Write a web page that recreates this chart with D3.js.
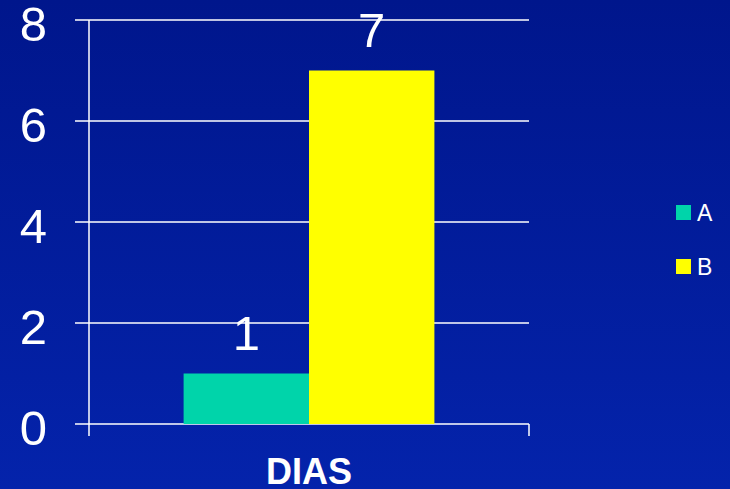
<!DOCTYPE html>
<html>
<head>
<meta charset="utf-8">
<script src="https://cdn.jsdelivr.net/npm/d3@7"></script>
<style>
  html, body { margin: 0; padding: 0; }
  body { width: 730px; height: 489px; overflow: hidden; }
</style>
</head>
<body>
<div id="chart"></div>
<script>
// data
const categories = ["DIAS"];
const seriesNames = ["A", "B"];
const seriesValues = [1, 7];
const yTicks = [0, 2, 4, 6, 8];
const seriesColors = ["#00D4AA", "#FFFF00"];

const W = 730, H = 489;
const margin = {top: 20, right: 201, bottom: 65, left: 89};
const width = W - margin.left - margin.right,
      height = H - margin.top - margin.bottom;

const svg = d3.select("#chart").append("svg")
  .attr("width", W)
  .attr("height", H)
  .style("font-family", "Arial, 'Liberation Sans', sans-serif");

const grad = svg.append("defs").append("linearGradient")
  .attr("id", "bg").attr("x1", 0).attr("y1", 0).attr("x2", 0).attr("y2", 1);
grad.append("stop").attr("offset", "0%").attr("stop-color", "#00168c");
grad.append("stop").attr("offset", "100%").attr("stop-color", "#0423ab");

svg.append("rect").attr("width", W).attr("height", H).attr("fill", "url(#bg)");

const g = svg.append("g")
  .attr("transform", "translate(" + margin.left + "," + margin.top + ")");

const x0 = d3.scaleBand().domain(categories).range([0, width]);
const x1 = d3.scaleBand().domain(seriesNames)
  .range([x0.bandwidth() * 0.215, x0.bandwidth() * 0.785]);
const y = d3.scaleLinear().domain([0, 8]).range([height, 0]);
const color = d3.scaleOrdinal().domain(seriesNames).range(seriesColors);

// gridlines
g.selectAll(".grid")
  .data(yTicks)
  .enter().append("line")
  .attr("x1", -14).attr("x2", width)
  .attr("y1", d => y(d)).attr("y2", d => y(d))
  .attr("stroke", "#ffffff").attr("stroke-width", 1.5);

// y tick labels
g.selectAll(".ylab")
  .data(yTicks)
  .enter().append("text")
  .attr("x", -42)
  .attr("y", d => y(d) + 21)
  .attr("text-anchor", "end")
  .attr("fill", "#ffffff")
  .style("font-size", "49px")
  .text(d => d);

// bars
const slice = g.selectAll(".slice")
  .data(categories)
  .enter().append("g")
  .attr("transform", d => "translate(" + x0(d) + ",0)");

slice.selectAll("rect")
  .data(seriesNames.map((s, i) => ({name: s, value: seriesValues[i]})))
  .enter().append("rect")
  .attr("x", d => x1(d.name))
  .attr("width", x1.bandwidth())
  .attr("y", d => y(d.value))
  .attr("height", d => height - y(d.value))
  .attr("fill", d => color(d.name));

slice.selectAll(".val")
  .data(seriesNames.map((s, i) => ({name: s, value: seriesValues[i]})))
  .enter().append("text")
  .attr("x", d => x1(d.name) + x1.bandwidth() / 2)
  .attr("y", d => y(d.value) - 23.5)
  .attr("text-anchor", "middle")
  .attr("fill", "#ffffff")
  .style("font-size", "49px")
  .text(d => d.value);

// axes
g.append("line")
  .attr("x1", 0).attr("x2", 0)
  .attr("y1", 0).attr("y2", height + 12)
  .attr("stroke", "#ffffff").attr("stroke-width", 1.5);
g.append("line")
  .attr("x1", width).attr("x2", width)
  .attr("y1", height).attr("y2", height + 12)
  .attr("stroke", "#ffffff").attr("stroke-width", 1.5);

g.selectAll(".xlab")
  .data(categories)
  .enter().append("text")
  .attr("x", d => x0(d) + x0.bandwidth() / 2)
  .attr("y", height + 60)
  .attr("text-anchor", "middle")
  .attr("fill", "#ffffff")
  .style("font-size", "36px")
  .style("font-weight", "bold")
  .text(d => d);

// legend
const legend = svg.selectAll(".legend")
  .data(seriesNames)
  .enter().append("g")
  .attr("transform", (d, i) => "translate(676," + (205 + i * 54) + ")");

legend.append("rect")
  .attr("width", 15).attr("height", 15)
  .attr("fill", d => color(d));

legend.append("text")
  .attr("x", 21)
  .attr("y", 16)
  .attr("fill", "#ffffff")
  .style("font-size", "23px")
  .text(d => d);
</script>
</body>
</html>
